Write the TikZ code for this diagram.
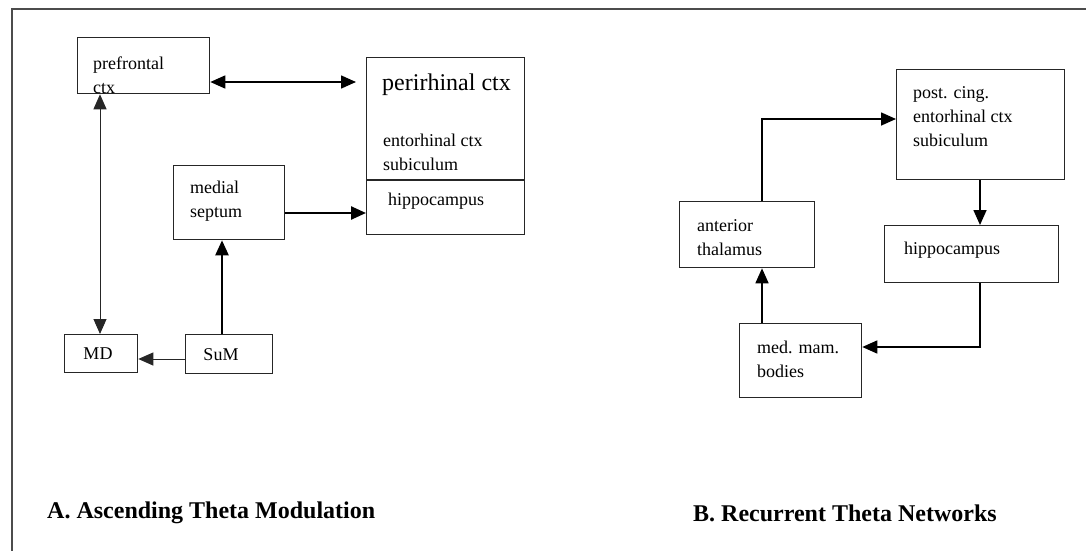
\documentclass[tikz,border=0pt]{standalone}
\usepackage{fontspec}
\setmainfont{Liberation Serif}
\usetikzlibrary{arrows.meta,calc}
\tikzset{
  box/.style={draw=black!85, line width=1.3pt, inner sep=0pt, anchor=north west},
  lbl/.style={anchor=west, inner sep=0pt, align=left, font=\fontsize{18}{24}\selectfont},
  bigl/.style={anchor=west, inner sep=0pt, align=left, font=\fontsize{24}{28}\selectfont},
  ttl/.style={anchor=west, inner sep=0pt, font=\fontsize{24}{28}\selectfont\bfseries},
  tip/.style={-{Triangle[length=15pt,width=13pt]}},
  dtip/.style={{Triangle[length=15pt,width=13pt]}-{Triangle[length=15pt,width=13pt]}},
  thinln/.style={line width=1pt, draw=black!85},
  midln/.style={line width=1.6pt, draw=black},
  thickln/.style={line width=2.4pt, draw=black},
}
\begin{document}
\begin{tikzpicture}[x=1pt,y=-1pt]
\useasboundingbox (0,0) rectangle (1086,551);
% frame
\draw[line width=2pt, draw=black!70] (12,551) coordinate (fbl) -- (12,9) coordinate (ftl) -- (1086,9) coordinate (ftr);

% helper coordinates
\coordinate (h1) at (0,82);
\coordinate (h2) at (0,359);
\coordinate (h3) at (0,213);
\coordinate (h4) at (0,119);
\coordinate (h5) at (0,347);
\coordinate (v1) at (100,0);
\coordinate (v2) at (222,0);
\coordinate (v3) at (762,0);
\coordinate (v4) at (980,0);

% ---------- A ----------
\node[box, minimum width=132pt, minimum height=56pt] (pf) at (77,37) {};
\node[lbl] (pft) at (93,75) {prefrontal\\ctx};

\node[box, minimum width=158pt, minimum height=177pt] (peri) at (366,57) {};
\draw[line width=1.3pt, draw=black!85] ($(peri.north west)+(0,123)$) coordinate (dl) -- ($(peri.north east)+(0,123)$) coordinate (dr);
\node[bigl] (perit) at (382,85) {perirhinal ctx};
\node[lbl] (entt) at (383,152) {entorhinal ctx\\subiculum};
\node[lbl] (hipAt) at (388,201) {hippocampus};

\node[box, minimum width=111pt, minimum height=74pt] (ms) at (173,165) {};
\node[lbl] (mst) at (190,201) {medial\\septum};

\node[box, minimum width=73pt, minimum height=38pt] (MD) at (64,334) {};
\node[lbl, anchor=center] (MDt) at (98,354) {MD};

\node[box, minimum width=87pt, minimum height=39pt] (SuM) at (185,334) {};
\node[lbl, anchor=center] (SuMt) at (221,355) {SuM};

\draw[midln, dtip, shorten >=10pt] (pf.east |- h1) -- (peri.west |- h1);
\draw[thinln, dtip] (pf.south -| v1) -- (MD.north -| v1);
\draw[thickln, tip] (SuM.north -| v2) -- (ms.south -| v2);
\draw[thinln, tip] (SuM.west |- h2) -- (MD.east |- h2);
\draw[thickln, tip] (ms.east |- h3) -- (peri.west |- h3);

\node[ttl] (tA) at (47,513) {A. Ascending Theta Modulation};

% ---------- B ----------
\node[box, minimum width=168pt, minimum height=110pt] (pc) at (896,69) {};
\node[lbl] (pct) at (913,117) {post. cing.\\entorhinal ctx\\subiculum};

\node[box, minimum width=135pt, minimum height=66pt] (at) at (679,201) {};
\node[lbl] (att) at (697,238) {anterior\\thalamus};

\node[box, minimum width=174pt, minimum height=57pt] (hip) at (884,225) {};
\node[lbl] (hipt) at (904,250) {hippocampus};

\node[box, minimum width=122pt, minimum height=74pt] (mm) at (739,323) {};
\node[lbl] (mmt) at (757,359) {med. mam.\\bodies};

\draw[midln, tip] (at.north -| v3) |- (pc.west |- h4);
\draw[midln, tip] (pc.south -| v4) -- (hip.north -| v4);
\draw[midln, tip] (hip.south -| v4) |- (mm.east |- h5);
\draw[midln, tip] (mm.north -| v3) -- (at.south -| v3);

\node[ttl] (tB) at (693,513) {B. Recurrent Theta Networks};
\end{tikzpicture}
\end{document}
